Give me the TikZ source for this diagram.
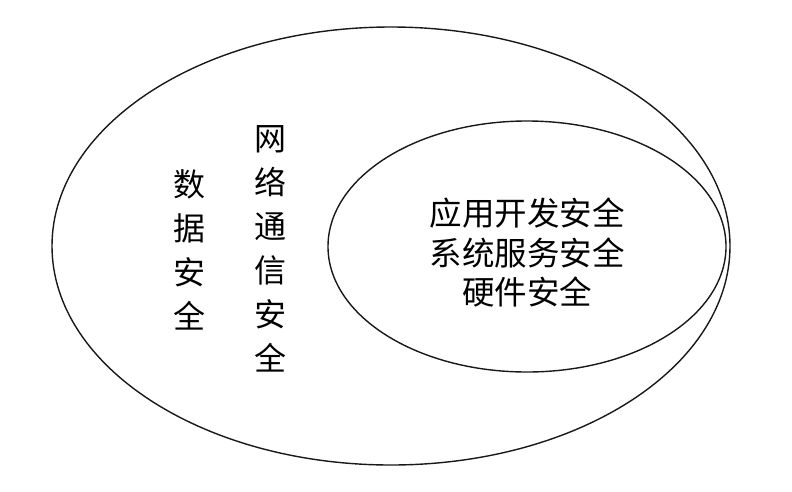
\documentclass[tikz,border=0pt]{standalone}
\usepackage{fontspec}
\newfontfamily\cjk{Noto Sans CJK SC}
\begin{document}
\begin{tikzpicture}[x=1pt,y=-1pt,
  ring/.style={draw=black!90,line width=1.4pt},
  vtext/.style={align=center,inner sep=0pt,font=\cjk\fontsize{32}{44}\selectfont},
  htext/.style={align=center,inner sep=0pt,font=\cjk\fontsize{32.5}{39.5}\selectfont}]
\useasboundingbox (0,0) rectangle (792,491);
\fill[white] (0,0) rectangle (792,491);
\draw[ring] (391,246) ellipse [x radius=339, y radius=219];
\draw[ring] (527,246.5) ellipse [x radius=199, y radius=125.5];
\node[vtext] (data) at (189.5,249.5) {数\\据\\安\\全};
\node[vtext] (net) at (270.5,248.5) {网\\络\\通\\信\\安\\全};
\node[htext] (inner) at (527,252.5) {应用开发安全\\系统服务安全\\硬件安全};
\end{tikzpicture}
\end{document}
